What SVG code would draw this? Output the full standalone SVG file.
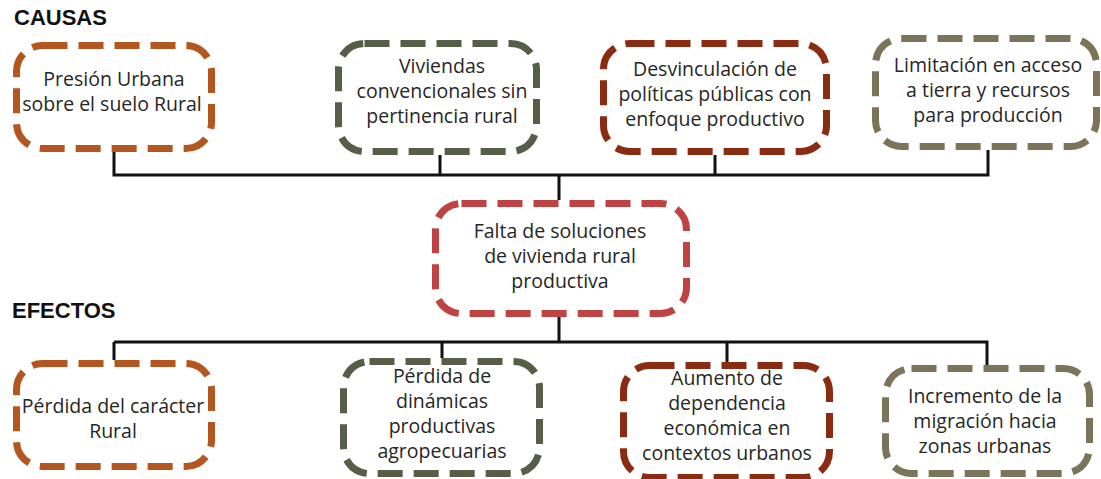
<svg xmlns="http://www.w3.org/2000/svg" width="1101" height="479" viewBox="0 0 1101 479">
<style>
.box{fill:#fff;stroke-width:7;stroke-dasharray:25 11;}
.c1{stroke:#B3561F;}
.c2{stroke:#565E48;}
.c3{stroke:#8A2C12;}
.c4{stroke:#7B745A;}
.c5{stroke:#BF4343;}
.t{font-family:"Open Sans","Liberation Sans",sans-serif;font-size:19.5px;fill:#262626;text-anchor:middle;}
.h{font-family:"Liberation Sans",Arial,sans-serif;font-weight:bold;font-size:22px;fill:#111;}
.ln{stroke:#111;stroke-width:3;fill:none;}
</style>
<rect width="1101" height="479" fill="#fff"/>
<text class="h" x="14" y="25">CAUSAS</text>
<text class="h" x="12" y="318">EFECTOS</text>
<g id="connectors">
<path class="ln" d="M114 152V175H988V150M440 155V175M715 155V175M559 175V200"/>
<path class="ln" d="M559 317V342M114 342H987V365M114 342V360M442 342V358M727 342V362"/>
</g>
<g id="n1"><rect class="box c1" x="16.5" y="45.5" width="195" height="103" rx="26"/>
<text class="t" x="114" y="86">Presión Urbana</text><text class="t" x="112" y="111">sobre el suelo Rural</text></g>
<g id="n2"><rect class="box c2" x="338.5" y="43.5" width="198" height="108" rx="26"/>
<text class="t" x="442" y="73">Viviendas</text><text class="t" x="442" y="98">convencionales sin</text><text class="t" x="442" y="123">pertinencia rural</text></g>
<g id="n3"><rect class="box c3" x="603.5" y="43.5" width="223" height="108" rx="26"/>
<text class="t" x="715" y="76">Desvinculación de</text><text class="t" x="715" y="101">políticas públicas con</text><text class="t" x="715" y="126">enfoque productivo</text></g>
<g id="n4"><rect class="box c4" x="875.5" y="38.5" width="221" height="108" rx="26"/>
<text class="t" x="988" y="72">Limitación en acceso</text><text class="t" x="988" y="97">a tierra y recursos</text><text class="t" x="988" y="122">para producción</text></g>
<g id="n0"><rect class="box c5" x="435.5" y="203.5" width="251" height="110" rx="26"/>
<text class="t" x="560" y="238">Falta de soluciones</text><text class="t" x="560" y="263">de vivienda rural</text><text class="t" x="560" y="288">productiva</text></g>
<g id="n5"><rect class="box c1" x="16.5" y="363.5" width="195" height="103" rx="26"/>
<text class="t" x="113" y="413">Pérdida del carácter</text><text class="t" x="113" y="438">Rural</text></g>
<g id="n6"><rect class="box c2" x="343.5" y="361.5" width="196" height="112" rx="26"/>
<text class="t" x="442" y="383">Pérdida de</text><text class="t" x="442" y="408">dinámicas</text><text class="t" x="442" y="433">productivas</text><text class="t" x="442" y="458">agropecuarias</text></g>
<g id="n7"><rect class="box c3" x="623.5" y="365.5" width="206" height="112" rx="26"/>
<text class="t" x="727" y="385">Aumento de</text><text class="t" x="727" y="410">dependencia</text><text class="t" x="727" y="435">económica en</text><text class="t" x="727" y="460">contextos urbanos</text></g>
<g id="n8"><rect class="box c4" x="885.5" y="368.5" width="204" height="105" rx="26"/>
<text class="t" x="985" y="403">Incremento de la</text><text class="t" x="985" y="428">migración hacia</text><text class="t" x="985" y="453">zonas urbanas</text></g>
</svg>
